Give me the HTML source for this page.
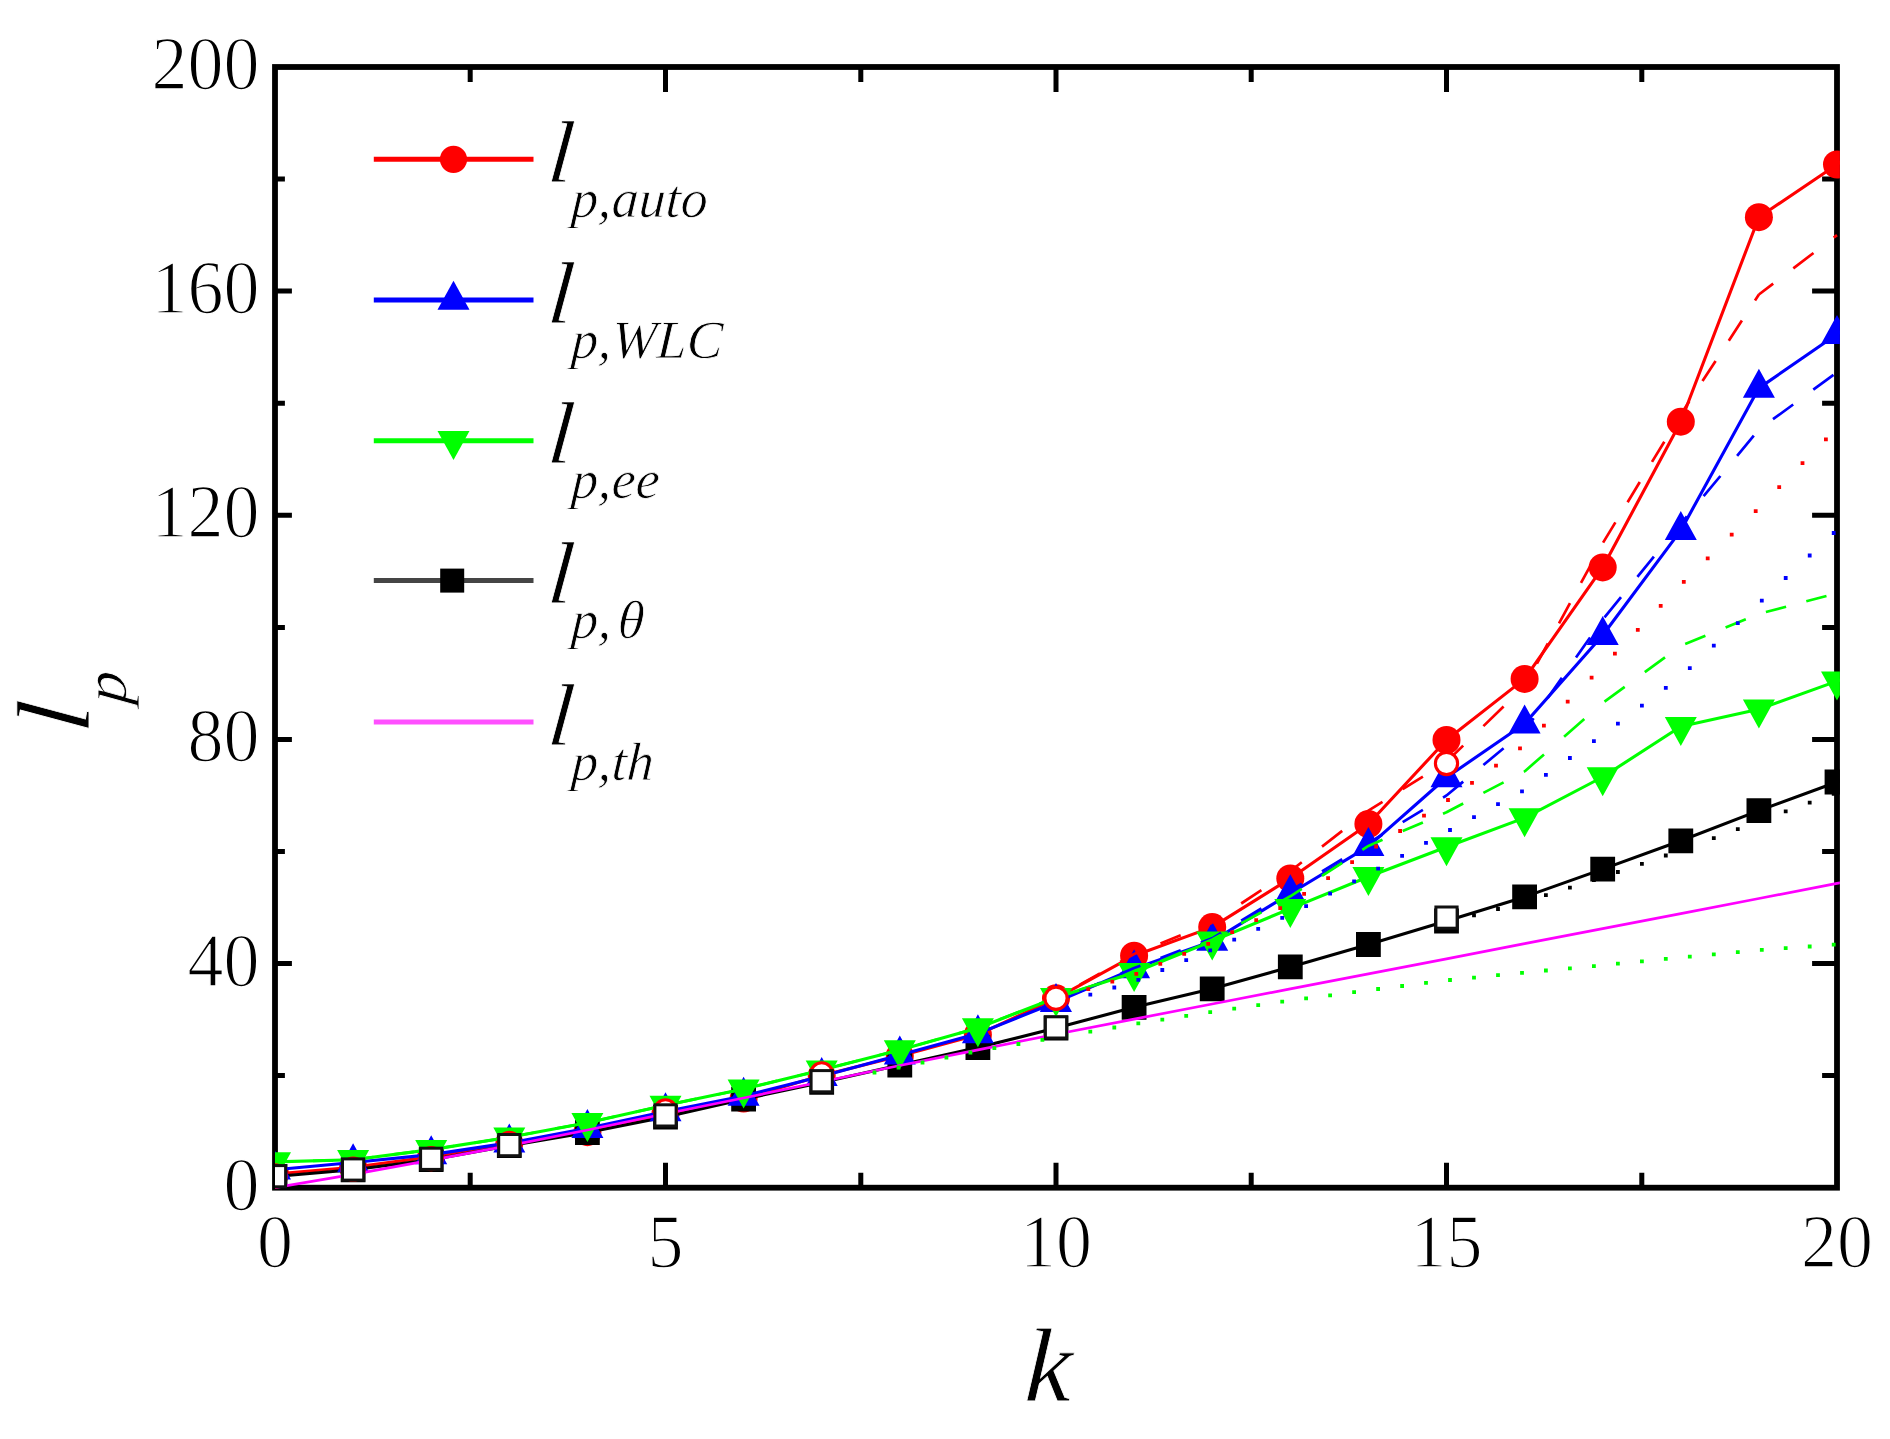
<!DOCTYPE html>
<html lang="en"><head><meta charset="utf-8"><title>Persistence length versus stiffness</title>
<style>html,body{margin:0;padding:0;background:#fff}svg{display:block}text{font-family:"Liberation Serif","DejaVu Serif",serif;fill:#000}.it{font-style:italic}</style></head><body>
<svg width="1890" height="1439" viewBox="0 0 1890 1439">
<rect width="1890" height="1439" fill="#fff"/>
<g stroke="#000" fill="none">
<rect x="275" y="67" width="1562" height="1120.7" stroke-width="5.8"/>
<path d="M470.2 1187.7v-14.9M470.2 67v14.9M665.5 1187.7v-24.9M665.5 67v24.9M860.8 1187.7v-14.9M860.8 67v14.9M1056 1187.7v-24.9M1056 67v24.9M1251.2 1187.7v-14.9M1251.2 67v14.9M1446.5 1187.7v-24.9M1446.5 67v24.9M1641.8 1187.7v-14.9M1641.8 67v14.9M275 1075.6h9.9M1837 1075.6h-14.9M275 963.6h16.9M1837 963.6h-24.9M275 851.5h9.9M1837 851.5h-14.9M275 739.4h16.9M1837 739.4h-24.9M275 627.4h9.9M1837 627.4h-14.9M275 515.3h16.9M1837 515.3h-24.9M275 403.2h9.9M1837 403.2h-14.9M275 291.1h16.9M1837 291.1h-24.9M275 179.1h9.9M1837 179.1h-14.9" stroke-width="5"/>
</g>
<g font-size="77" stroke="#fff" stroke-width="1.5">
<text transform="translate(275 1267.3) scale(0.935 1)" text-anchor="middle">0</text>
<text transform="translate(665.5 1267.3) scale(0.935 1)" text-anchor="middle">5</text>
<text transform="translate(1056 1267.3) scale(0.935 1)" text-anchor="middle">10</text>
<text transform="translate(1446.5 1267.3) scale(0.935 1)" text-anchor="middle">15</text>
<text transform="translate(1837 1267.3) scale(0.935 1)" text-anchor="middle">20</text>
<text transform="translate(259.5 1209.7) scale(0.935 1)" text-anchor="end">0</text>
<text transform="translate(259.5 985.6) scale(0.935 1)" text-anchor="end">40</text>
<text transform="translate(259.5 761.4) scale(0.935 1)" text-anchor="end">80</text>
<text transform="translate(259.5 537.3) scale(0.935 1)" text-anchor="end">120</text>
<text transform="translate(259.5 313.1) scale(0.935 1)" text-anchor="end">160</text>
<text transform="translate(259.5 89) scale(0.935 1)" text-anchor="end">200</text>
</g>
<g class="it" stroke="#fff" stroke-width="0.8">
<text transform="translate(1047 1400.7) skewX(-3)" font-size="105" text-anchor="middle">k</text>
<g transform="translate(89 734) rotate(-90)"><text transform="skewX(-5.3)" font-size="104" x="0" y="0">l</text><text transform="translate(29.2 37.3) skewX(-5) scale(1.06 1)" font-size="61">p</text></g>
</g>
<clipPath id="c"><rect x="275" y="64.1" width="1564.9" height="1126.5"/></clipPath>
<g clip-path="url(#c)">
<polyline points="275,1174 353.1,1167.2 431.2,1156.9 509.3,1143.2 587.4,1132.2 665.5,1113.7 743.6,1098.6 821.7,1075.6 899.8,1056 977.9,1034.7 1056,998.3 1134.1,955.7 1212.2,927.1 1290.3,878.4 1368.4,824 1446.5,740 1524.6,678.9 1602.7,567.4 1680.8,421.7 1758.9,217.2 1837,164.5 1841,161.8" fill="none" stroke="#ff0000" stroke-width="3.1" stroke-linejoin="round"/>
<circle cx="275" cy="1174" r="14" fill="#ff0000"/><circle cx="353.1" cy="1167.2" r="14" fill="#ff0000"/><circle cx="431.2" cy="1156.9" r="14" fill="#ff0000"/><circle cx="509.3" cy="1143.2" r="14" fill="#ff0000"/><circle cx="587.4" cy="1132.2" r="14" fill="#ff0000"/><circle cx="665.5" cy="1113.7" r="14" fill="#ff0000"/><circle cx="743.6" cy="1098.6" r="14" fill="#ff0000"/><circle cx="821.7" cy="1075.6" r="14" fill="#ff0000"/><circle cx="899.8" cy="1056" r="14" fill="#ff0000"/><circle cx="977.9" cy="1034.7" r="14" fill="#ff0000"/><circle cx="1056" cy="998.3" r="14" fill="#ff0000"/><circle cx="1134.1" cy="955.7" r="14" fill="#ff0000"/><circle cx="1212.2" cy="927.1" r="14" fill="#ff0000"/><circle cx="1290.3" cy="878.4" r="14" fill="#ff0000"/><circle cx="1368.4" cy="824" r="14" fill="#ff0000"/><circle cx="1446.5" cy="740" r="14" fill="#ff0000"/><circle cx="1524.6" cy="678.9" r="14" fill="#ff0000"/><circle cx="1602.7" cy="567.4" r="14" fill="#ff0000"/><circle cx="1680.8" cy="421.7" r="14" fill="#ff0000"/><circle cx="1758.9" cy="217.2" r="14" fill="#ff0000"/><circle cx="1837" cy="164.5" r="14" fill="#ff0000"/>
<polyline points="275,1176.5 353.1,1169.8 431.2,1159.7 509.3,1145.7 587.4,1132.5 665.5,1117.1 743.6,1099.2 821.7,1082.4 899.8,1065 977.9,1047.6 1056,1028 1134.1,1007.3 1212.2,988.8 1290.3,966.9 1368.4,944.5 1446.5,921 1524.6,896.9 1602.7,869.1 1680.8,840.8 1758.9,810.6 1837,782 1841,780.5" fill="none" stroke="#000000" stroke-width="3.1" stroke-linejoin="round"/>
<path d="M262.6 1164.1h24.8v24.8h-24.8zM340.7 1157.4h24.8v24.8h-24.8zM418.8 1147.3h24.8v24.8h-24.8zM496.9 1133.3h24.8v24.8h-24.8zM575 1120.1h24.8v24.8h-24.8zM653.1 1104.7h24.8v24.8h-24.8zM731.2 1086.8h24.8v24.8h-24.8zM809.3 1070h24.8v24.8h-24.8zM887.4 1052.6h24.8v24.8h-24.8zM965.5 1035.2h24.8v24.8h-24.8zM1043.6 1015.6h24.8v24.8h-24.8zM1121.7 994.9h24.8v24.8h-24.8zM1199.8 976.4h24.8v24.8h-24.8zM1277.9 954.5h24.8v24.8h-24.8zM1356 932.1h24.8v24.8h-24.8zM1434.1 908.6h24.8v24.8h-24.8zM1512.2 884.5h24.8v24.8h-24.8zM1590.3 856.7h24.8v24.8h-24.8zM1668.4 828.4h24.8v24.8h-24.8zM1746.5 798.2h24.8v24.8h-24.8zM1824.6 769.6h24.8v24.8h-24.8z" fill="#000000"/>
<polyline points="275,1169.8 353.1,1162.5 431.2,1154.6 509.3,1142.9 587.4,1128.3 665.5,1111.5 743.6,1096.1 821.7,1076.2 899.8,1054.9 977.9,1033.6 1056,1002.2 1134.1,968.6 1212.2,941.1 1290.3,893.5 1368.4,846.4 1446.5,777.5 1524.6,723.7 1602.7,635.2 1680.8,530.4 1758.9,388.1 1837,334.3 1841,331.5" fill="none" stroke="#0000ff" stroke-width="3.1" stroke-linejoin="round"/>
<path d="M275 1150.4L291 1179.4L259 1179.4zM353.1 1143.2L369.1 1172.2L337.1 1172.2zM431.2 1135.3L447.2 1164.3L415.2 1164.3zM509.3 1123.5L525.3 1152.5L493.3 1152.5zM587.4 1109L603.4 1138L571.4 1138zM665.5 1092.2L681.5 1121.2L649.5 1121.2zM743.6 1076.7L759.6 1105.7L727.6 1105.7zM821.7 1056.9L837.7 1085.9L805.7 1085.9zM899.8 1035.6L915.8 1064.6L883.8 1064.6zM977.9 1014.3L993.9 1043.3L961.9 1043.3zM1056 982.9L1072 1011.9L1040 1011.9zM1134.1 949.3L1150.1 978.3L1118.1 978.3zM1212.2 921.8L1228.2 950.8L1196.2 950.8zM1290.3 874.2L1306.3 903.2L1274.3 903.2zM1368.4 827.1L1384.4 856.1L1352.4 856.1zM1446.5 758.2L1462.5 787.2L1430.5 787.2zM1524.6 704.4L1540.6 733.4L1508.6 733.4zM1602.7 615.9L1618.7 644.9L1586.7 644.9zM1680.8 511.1L1696.8 540.1L1664.8 540.1zM1758.9 368.7L1774.9 397.7L1742.9 397.7zM1837 315L1853 344L1821 344z" fill="#0000ff"/>
<polyline points="275,1161.9 353.1,1159.7 431.2,1149.6 509.3,1137.3 587.4,1122.7 665.5,1105.3 743.6,1089.1 821.7,1070 899.8,1049.9 977.9,1028 1056,997.7 1134.1,972.5 1212.2,941.1 1290.3,908.6 1368.4,876.7 1446.5,847 1524.6,817.9 1602.7,777 1680.8,726.5 1758.9,709.2 1837,681.1 1841,679.7" fill="none" stroke="#00ff00" stroke-width="3.1" stroke-linejoin="round"/>
<path d="M275 1181.3L291 1152.3L259 1152.3zM353.1 1179L369.1 1150L337.1 1150zM431.2 1168.9L447.2 1139.9L415.2 1139.9zM509.3 1156.6L525.3 1127.6L493.3 1127.6zM587.4 1142L603.4 1113L571.4 1113zM665.5 1124.7L681.5 1095.7L649.5 1095.7zM743.6 1108.4L759.6 1079.4L727.6 1079.4zM821.7 1089.4L837.7 1060.4L805.7 1060.4zM899.8 1069.2L915.8 1040.2L883.8 1040.2zM977.9 1047.3L993.9 1018.3L961.9 1018.3zM1056 1017.1L1072 988.1L1040 988.1zM1134.1 991.9L1150.1 962.9L1118.1 962.9zM1212.2 960.5L1228.2 931.5L1196.2 931.5zM1290.3 928L1306.3 899L1274.3 899zM1368.4 896L1384.4 867L1352.4 867zM1446.5 866.3L1462.5 837.3L1430.5 837.3zM1524.6 837.2L1540.6 808.2L1508.6 808.2zM1602.7 796.3L1618.7 767.3L1586.7 767.3zM1680.8 745.9L1696.8 716.9L1664.8 716.9zM1758.9 728.5L1774.9 699.5L1742.9 699.5zM1837 700.5L1853 671.5L1821 671.5z" fill="#00ff00"/>
<polyline points="275,1187.7 353.1,1174.3 431.2,1160.2 509.3,1145.7 587.4,1130 665.5,1113.7 743.6,1098 821.7,1081.8 899.8,1065.5 977.9,1049.9 1056,1034.2 1134.1,1019.1 1212.2,1004 1290.3,988.9 1368.4,973.9 1446.5,958.8 1524.6,943.7 1602.7,928.7 1680.8,913.6 1758.9,898.5 1837,883.4 1841,882.7" fill="none" stroke="#ff00ff" stroke-width="2.7" stroke-linejoin="round"/>
<path d="M1056 998.3L1059.6 996.2M1079.8 984.8L1100 973.4M1120.2 961.9L1134.1 954M1134.1 954L1140.4 951.5M1160.5 943.4L1180.7 935.3M1200.9 927.2L1212.2 922.7M1212.2 922.7L1221.1 916.8M1241.2 903.5L1261.4 890.2M1281.6 876.8L1290.3 871.1M1290.3 871.1L1301.8 862.2M1322 846.6L1342.2 830.9M1362.3 815.3L1368.4 810.6M1368.4 810.6L1382.5 801.8M1402.7 789.2L1422.9 776.6M1443 764L1446.5 761.8M1446.5 761.8L1463.2 745.6M1483.4 726.1L1503.6 706.5M1523.8 687L1524.6 686.2M1524.6 686.2L1525.9 683.8M1536.9 663.7L1547.9 643.5M1559 623.3L1570 603.1M1581 582.9L1592.1 562.7M1603.1 542.6L1615.4 522.4M1627.6 502.2L1639.8 482M1652 461.9L1664.3 441.7M1676.5 421.5L1680.8 414.4M1680.8 414.4L1689.3 401.3M1702.5 381.1L1715.6 360.9M1728.8 340.8L1741.9 320.6M1755 300.4L1758.9 294.5M1758.9 294.5L1773.2 283.6M1793.3 268.3L1813.5 253M1833.7 237.6L1837 235.1" fill="none" stroke="#ff0000" stroke-width="2.7"/>
<path d="M1056 1001.7L1059.6 1000.1M1079.8 991.4L1100 982.7M1120.2 974L1134.1 968M1134.1 968L1140.4 965.7M1160.5 958L1180.7 950.3M1200.9 942.6L1212.2 938.3M1212.2 938.3L1221.1 932.9M1241.2 920.6L1261.4 908.3M1281.6 896L1290.3 890.7M1290.3 890.7L1301.8 883.7M1322 871.4L1342.2 859.1M1362.3 846.8L1368.4 843.1M1368.4 843.1L1382.5 834.5M1402.7 822.2L1422.9 809.9M1443 797.6L1446.5 795.5M1446.5 795.5L1463.2 781.6M1483.4 765L1503.6 748.3M1523.8 731.7L1524.6 731M1524.6 731L1533.6 718.2M1547.7 698L1561.9 677.8M1576 657.6L1590.1 637.4M1604.5 617.3L1621 597.1M1637.4 576.9L1653.9 556.7M1670.3 536.6L1680.8 523.7M1680.8 523.7L1686.9 516.4M1703.6 496.2L1720.4 476M1737.1 455.8L1753.8 435.6M1773 419.2L1793.2 404.5M1813.3 389.7L1833.5 374.9" fill="none" stroke="#0000ff" stroke-width="2.7"/>
<path d="M275 1161.9L292.8 1161.4M313 1160.8L333.2 1160.3M353.3 1159.7L373.5 1157M393.7 1154.4L413.9 1151.8M434 1149.1L454.2 1146M474.4 1142.8L494.6 1139.6M514.8 1136.2L535 1132.5M555.1 1128.7L575.3 1125M595.5 1120.9L615.7 1116.4M635.8 1111.9L656 1107.4M676.2 1103.1L696.4 1098.9M716.6 1094.7L736.8 1090.5M756.9 1085.8L777.1 1080.9M797.3 1076L817.5 1071.1M837.6 1065.9L857.8 1060.7M878 1055.5L898.2 1050.3M918.4 1044.7L938.6 1039M958.7 1033.4L977.9 1028M977.9 1028L978.9 1027.6M999.1 1019.6L1019.3 1011.7M1039.4 1003.7L1056 997.2M1056 997.2L1059.6 996M1079.8 989.7L1100 983.3M1120.2 976.9L1134.1 972.5M1134.1 972.5L1140.4 969.9M1160.5 961.3L1180.7 952.8M1200.9 944.3L1212.2 939.5M1212.2 939.5L1221.1 934.6M1241.2 923.4L1261.4 912.3M1281.6 901.1L1290.3 896.3M1290.3 896.3L1301.8 888.9M1322 875.9L1342.2 862.8M1362.3 849.8L1368.4 845.9M1368.4 845.9L1382.5 839.8M1402.7 831.1L1422.9 822.4M1443 813.8L1446.5 812.3M1446.5 812.3L1463.2 803.5M1483.4 792.9L1503.6 782.4M1523.8 771.8L1524.6 771.4M1524.6 771.4L1544 754.4M1564.1 736.8L1584.3 719.1M1604.5 701.7L1624.7 686.9M1644.8 672.2L1665 657.4M1685.2 644L1705.4 635.8M1725.6 627.5L1745.8 619.3M1765.9 612L1786.1 606.7M1806.3 601.3L1826.5 596" fill="none" stroke="#00ff00" stroke-width="2.7"/>
<path d="M1062.4 994.9h3.8v3.8h-3.8zM1086.4 987.3h3.8v3.8h-3.8zM1110.4 979.7h3.8v3.8h-3.8zM1134.4 972h3.8v3.8h-3.8zM1158.4 962h3.8v3.8h-3.8zM1182.3 952h3.8v3.8h-3.8zM1206.3 942h3.8v3.8h-3.8zM1230.3 930.3h3.8v3.8h-3.8zM1254.3 918.3h3.8v3.8h-3.8zM1278.3 906.2h3.8v3.8h-3.8zM1302.2 892h3.8v3.8h-3.8zM1326.2 876.2h3.8v3.8h-3.8zM1350.2 860.3h3.8v3.8h-3.8zM1374.2 844.6h3.8v3.8h-3.8zM1398.2 829.1h3.8v3.8h-3.8zM1422.1 813.7h3.8v3.8h-3.8zM1446.1 798.1h3.8v3.8h-3.8zM1470.1 780.9h3.8v3.8h-3.8zM1494.1 763.7h3.8v3.8h-3.8zM1518.1 746.5h3.8v3.8h-3.8zM1542 723.8h3.8v3.8h-3.8zM1565.8 699.8h3.8v3.8h-3.8zM1589.7 675.8h3.8v3.8h-3.8zM1613 651.8h3.8v3.8h-3.8zM1635.9 627.9h3.8v3.8h-3.8zM1658.8 603.9h3.8v3.8h-3.8zM1681.9 580h3.8v3.8h-3.8zM1705.8 556.4h3.8v3.8h-3.8zM1729.8 532.8h3.8v3.8h-3.8zM1753.8 509.2h3.8v3.8h-3.8zM1777.3 485.3h3.8v3.8h-3.8zM1800.6 461.3h3.8v3.8h-3.8zM1824 437.4h3.8v3.8h-3.8z" fill="#ff0000"/>
<path d="M1040.5 1008.1h3.8v3.8h-3.8zM1064.4 1000h3.8v3.8h-3.8zM1088.4 992.8h3.8v3.8h-3.8zM1112.4 985.6h3.8v3.8h-3.8zM1136.4 977.9h3.8v3.8h-3.8zM1160.4 968.1h3.8v3.8h-3.8zM1184.3 958.3h3.8v3.8h-3.8zM1208.3 948.5h3.8v3.8h-3.8zM1232.3 937.7h3.8v3.8h-3.8zM1256.3 926.9h3.8v3.8h-3.8zM1280.3 916h3.8v3.8h-3.8zM1304.2 904.2h3.8v3.8h-3.8zM1328.2 891.8h3.8v3.8h-3.8zM1352.2 879.4h3.8v3.8h-3.8zM1376.2 866.8h3.8v3.8h-3.8zM1400.2 853.9h3.8v3.8h-3.8zM1424.1 841h3.8v3.8h-3.8zM1448.1 828.1h3.8v3.8h-3.8zM1472.1 815.2h3.8v3.8h-3.8zM1496.1 802.3h3.8v3.8h-3.8zM1520.1 789.4h3.8v3.8h-3.8zM1544 772.9h3.8v3.8h-3.8zM1568 756.1h3.8v3.8h-3.8zM1592 739.2h3.8v3.8h-3.8zM1616 721.7h3.8v3.8h-3.8zM1640 703.8h3.8v3.8h-3.8zM1663.9 685.9h3.8v3.8h-3.8zM1687.9 666.3h3.8v3.8h-3.8zM1711.9 643.7h3.8v3.8h-3.8zM1735.9 621.2h3.8v3.8h-3.8zM1759.9 598.7h3.8v3.8h-3.8zM1783.8 576.1h3.8v3.8h-3.8zM1807.8 553.6h3.8v3.8h-3.8zM1831.8 531.1h3.8v3.8h-3.8z" fill="#0000ff"/>
<path d="M872.6 1070.6h3.8v3.8h-3.8zM896.6 1065.6h3.8v3.8h-3.8zM920.6 1060.6h3.8v3.8h-3.8zM944.5 1055.6h3.8v3.8h-3.8zM968.5 1050.6h3.8v3.8h-3.8zM992.5 1046.2h3.8v3.8h-3.8zM1016.5 1042.1h3.8v3.8h-3.8zM1040.5 1038h3.8v3.8h-3.8zM1064.4 1033.8h3.8v3.8h-3.8zM1088.4 1029.7h3.8v3.8h-3.8zM1112.4 1025.6h3.8v3.8h-3.8zM1136.4 1021.5h3.8v3.8h-3.8zM1160.4 1017.7h3.8v3.8h-3.8zM1184.3 1013.9h3.8v3.8h-3.8zM1208.3 1010.2h3.8v3.8h-3.8zM1232.3 1006.7h3.8v3.8h-3.8zM1256.3 1003.3h3.8v3.8h-3.8zM1280.3 999.8h3.8v3.8h-3.8zM1304.2 996.5h3.8v3.8h-3.8zM1328.2 993.4h3.8v3.8h-3.8zM1352.2 990.2h3.8v3.8h-3.8zM1376.2 987.1h3.8v3.8h-3.8zM1400.2 984.1h3.8v3.8h-3.8zM1424.1 981h3.8v3.8h-3.8zM1448.1 978.1h3.8v3.8h-3.8zM1472.1 975.7h3.8v3.8h-3.8zM1496.1 973.3h3.8v3.8h-3.8zM1520.1 970.9h3.8v3.8h-3.8zM1544 968.6h3.8v3.8h-3.8zM1568 966.4h3.8v3.8h-3.8zM1592 964.2h3.8v3.8h-3.8zM1616 961.8h3.8v3.8h-3.8zM1640 959.4h3.8v3.8h-3.8zM1663.9 957h3.8v3.8h-3.8zM1687.9 954.7h3.8v3.8h-3.8zM1711.9 952.4h3.8v3.8h-3.8zM1735.9 950.2h3.8v3.8h-3.8zM1759.9 948h3.8v3.8h-3.8zM1783.8 946.3h3.8v3.8h-3.8zM1807.8 944.6h3.8v3.8h-3.8zM1831.8 942.8h3.8v3.8h-3.8z" fill="#00ff00"/>
<path d="M1472.1 913.5h3.8v3.8h-3.8zM1496.1 907.1h3.8v3.8h-3.8zM1520.1 900.7h3.8v3.8h-3.8zM1544 893.3h3.8v3.8h-3.8zM1568 885.7h3.8v3.8h-3.8zM1592 878.1h3.8v3.8h-3.8zM1616 870.1h3.8v3.8h-3.8zM1640 861.9h3.8v3.8h-3.8zM1663.9 853.6h3.8v3.8h-3.8zM1687.9 845.1h3.8v3.8h-3.8zM1711.9 836.2h3.8v3.8h-3.8zM1735.9 827.2h3.8v3.8h-3.8zM1759.9 818.3h3.8v3.8h-3.8zM1783.8 809.5h3.8v3.8h-3.8zM1807.8 800.7h3.8v3.8h-3.8zM1831.8 792h3.8v3.8h-3.8z" fill="#000"/>
<circle cx="275" cy="1175.9" r="11.1" fill="#fff" stroke="#ff0000" stroke-width="3.1"/>
<circle cx="353.1" cy="1169.2" r="11.1" fill="#fff" stroke="#ff0000" stroke-width="3.1"/>
<circle cx="431.2" cy="1158.6" r="11.1" fill="#fff" stroke="#ff0000" stroke-width="3.1"/>
<circle cx="509.3" cy="1143.4" r="11.1" fill="#fff" stroke="#ff0000" stroke-width="3.1"/>
<circle cx="665.5" cy="1110.9" r="11.1" fill="#fff" stroke="#ff0000" stroke-width="3.1"/>
<circle cx="821.7" cy="1073.9" r="11.1" fill="#fff" stroke="#ff0000" stroke-width="3.1"/>
<circle cx="1056" cy="998.3" r="11.1" fill="#fff" stroke="#ff0000" stroke-width="3.1"/>
<circle cx="1446.5" cy="763.5" r="11.1" fill="#fff" stroke="#ff0000" stroke-width="3.1"/>
<rect x="264.4" y="1165.6" width="21.2" height="21.2" fill="#fff" stroke="#111" stroke-width="3"/>
<rect x="342.5" y="1158.9" width="21.2" height="21.2" fill="#fff" stroke="#111" stroke-width="3"/>
<rect x="420.6" y="1148.2" width="21.2" height="21.2" fill="#fff" stroke="#111" stroke-width="3"/>
<rect x="498.7" y="1134.5" width="21.2" height="21.2" fill="#fff" stroke="#111" stroke-width="3"/>
<rect x="654.9" y="1104.8" width="21.2" height="21.2" fill="#fff" stroke="#111" stroke-width="3"/>
<rect x="811.1" y="1070.6" width="21.2" height="21.2" fill="#fff" stroke="#111" stroke-width="3"/>
<rect x="1045.4" y="1016.8" width="21.2" height="21.2" fill="#fff" stroke="#111" stroke-width="3"/>
<rect x="1435.9" y="907" width="21.2" height="21.2" fill="#fff" stroke="#111" stroke-width="3"/>
</g>
<line x1="373.8" y1="159.3" x2="533.5" y2="159.3" stroke="#ff0000" stroke-width="5"/>
<circle cx="453.5" cy="159.3" r="13.6" fill="#ff0000"/>
<text class="it" font-size="88" transform="translate(546.5 181.8) skewX(-5.3)" stroke="#fff" stroke-width="0.8">l</text>
<text class="it" font-size="54" transform="translate(570.5 216.8) skewX(-3)" stroke="#fff" stroke-width="0.8">p,auto</text>
<line x1="373.8" y1="300" x2="533.5" y2="300" stroke="#0000ff" stroke-width="5"/>
<path d="M453.5 280.7L469.5 309.7L437.5 309.7z" fill="#0000ff"/>
<text class="it" font-size="88" transform="translate(546.5 322.5) skewX(-5.3)" stroke="#fff" stroke-width="0.8">l</text>
<text class="it" font-size="54" transform="translate(570.5 357.5) skewX(-3)" stroke="#fff" stroke-width="0.8">p,WLC</text>
<line x1="373.8" y1="440.7" x2="533.5" y2="440.7" stroke="#00ff00" stroke-width="5"/>
<path d="M453.5 460L469.5 431L437.5 431z" fill="#00ff00"/>
<text class="it" font-size="88" transform="translate(546.5 463.2) skewX(-5.3)" stroke="#fff" stroke-width="0.8">l</text>
<text class="it" font-size="54" transform="translate(570.5 498.2) skewX(-3)" stroke="#fff" stroke-width="0.8">p,ee</text>
<line x1="373.8" y1="580.6" x2="533.5" y2="580.6" stroke="#454545" stroke-width="5"/>
<rect x="440.2" y="568.6" width="24" height="24" fill="#000"/>
<text class="it" font-size="88" transform="translate(546.5 603.1) skewX(-5.3)" stroke="#fff" stroke-width="0.8">l</text>
<text class="it" font-size="54" transform="translate(570.5 638.1) skewX(-3)" stroke="#fff" stroke-width="0.8">p,<tspan dx="6">θ</tspan></text>
<line x1="373.8" y1="722" x2="533.5" y2="722" stroke="#ff50ff" stroke-width="5"/>
<text class="it" font-size="88" transform="translate(546.5 744.5) skewX(-5.3)" stroke="#fff" stroke-width="0.8">l</text>
<text class="it" font-size="54" transform="translate(570.5 779.5) skewX(-3)" stroke="#fff" stroke-width="0.8">p,th</text>
</svg></body></html>
